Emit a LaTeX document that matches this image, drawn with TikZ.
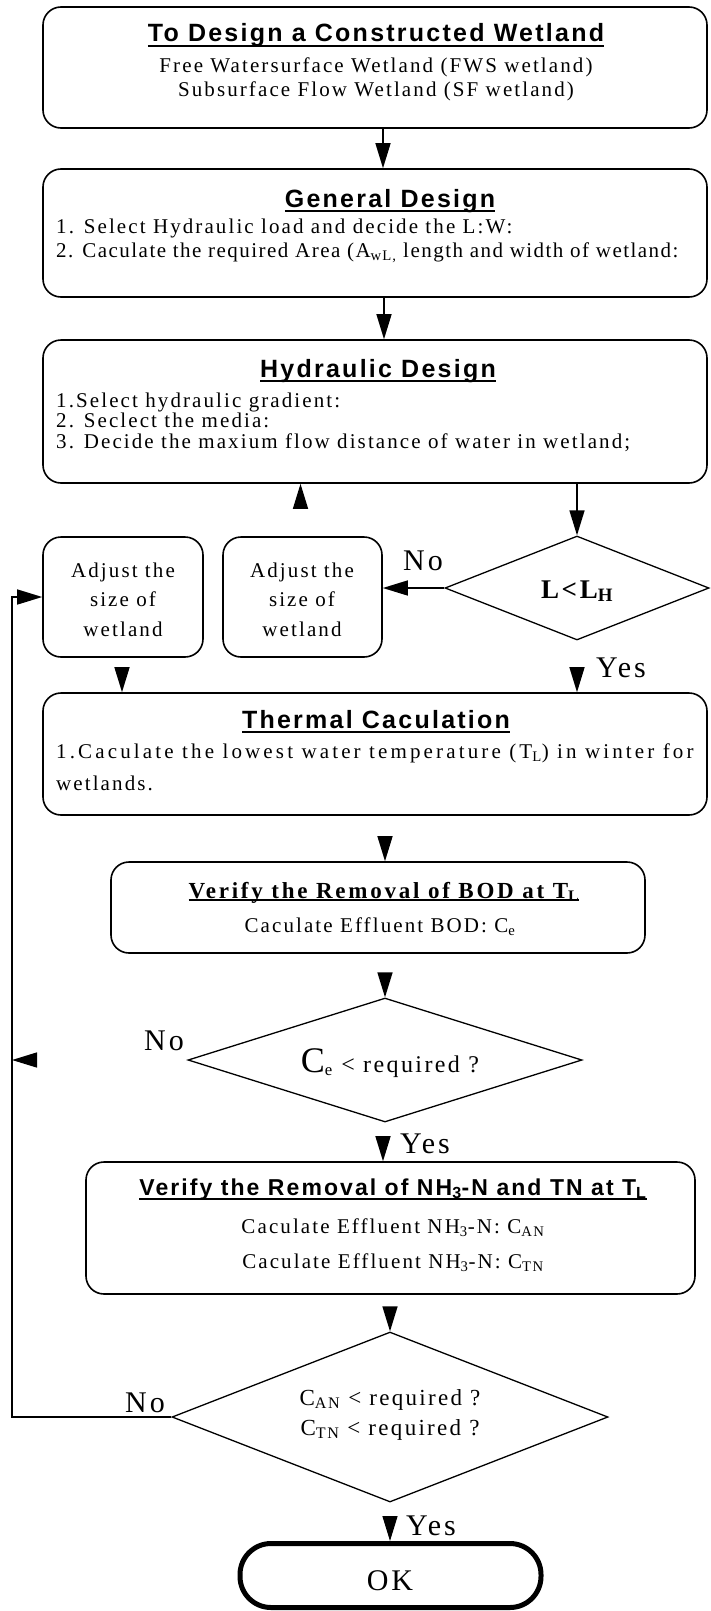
\documentclass[tikz,border=0pt]{standalone}
\usepackage{fontspec}
\setmainfont{Liberation Serif}[LetterSpace=10]
\newfontfamily\tsans{Liberation Sans}[LetterSpace=9]
\usetikzlibrary{arrows.meta,shapes.geometric}
\newcommand\myul[2][5pt]{\setbox0\hbox{#2}\rlap{\rule[-#1]{\wd0}{1.8pt}}\box0}
\tikzset{
  box/.style={draw, rounded corners=18pt, line width=1.6pt, inner sep=0pt},
  dia/.style={draw, diamond, line width=1.3pt, inner sep=0pt},
  arr/.style={line width=1.4pt, -{Triangle[length=25pt,width=15pt]}},
  txt/.style={inner sep=0pt, anchor=base, font=\fontsize{21}{24}\selectfont},
  ltxt/.style={txt, anchor=base west},
  ttl/.style={inner sep=0pt, anchor=base, font=\tsans\bfseries\fontsize{25}{28}\selectfont},
  lbl/.style={inner sep=0pt, anchor=base, font=\fontsize{30}{34}\selectfont},
}
\begin{document}
\begin{tikzpicture}[x=1pt,y=-1pt]
\useasboundingbox (0,0) rectangle (710,1611);
% boxes
\node[box, minimum width=664pt, minimum height=121pt] (b1) at (375,67.5) {};
\node[box, minimum width=664pt, minimum height=128pt] (b2) at (375,233) {};
\node[box, minimum width=664pt, minimum height=143pt] (b3) at (375,411.5) {};
\node[box, minimum width=160pt, minimum height=120pt] (adj1) at (123,597) {};
\node[box, minimum width=159pt, minimum height=120pt] (adj2) at (302.5,597) {};
\node[dia, minimum width=264pt, minimum height=104pt] (d1) at (577,588) {};
\node[box, minimum width=664pt, minimum height=122pt] (b4) at (375,754) {};
\node[box, minimum width=534pt, minimum height=91pt] (b5) at (378,907.5) {};
\node[dia, minimum width=394pt, minimum height=124pt] (d2) at (385,1060) {};
\node[box, minimum width=609pt, minimum height=132pt] (b6) at (390.5,1228) {};
\node[dia, minimum width=436pt, minimum height=170pt] (d3) at (390,1417) {};
\node[draw, line width=5pt, rounded corners=31pt, inner sep=0pt, minimum width=301pt, minimum height=64pt] (ok) at (390.5,1575.5) {};
\coordinate (fbx) at (12,0);

% texts box 1
\node[ttl] (t1) at (376,42) {\myul{To Design a Constructed Wetland}};
\node[txt] (t1a) at (376,73) {Free Watersurface Wetland (FWS wetland)};
\node[txt] (t1b) at (376,96) {Subsurface Flow Wetland (SF wetland)};
% box 2
\node[ttl] (t2) at (390,207) {\myul{General Design}};
\node[ltxt] (t2a) at (56,233) {1. Select Hydraulic load and decide the L:W:};
\node[ltxt, font=\fontsize{21}{24}\selectfont\addfontfeatures{LetterSpace=7}] (t2b) at (56,257) {2. Caculate the required Area (A\textsubscript{wL,} length and width of wetland:};
% box 3
\node[ttl] (t3) at (378,377) {\myul{Hydraulic Design}};
\node[ltxt] (t3a) at (56,407) {1.Select hydraulic gradient:};
\node[ltxt] (t3b) at (56,427) {2. Seclect the media:};
\node[ltxt] (t3c) at (56,448) {3. Decide the maxium flow distance of water in wetland;};
% adjust boxes
\node[txt] (a1a) at (123,577) {Adjust the};
\node[txt] (a1b) at (123,606) {size of};
\node[txt] (a1c) at (123,636) {wetland};
\node[txt] (a2a) at (302,577) {Adjust the};
\node[txt] (a2b) at (302,606) {size of};
\node[txt] (a2c) at (302,636) {wetland};
% diamond 1
\node[inner sep=0pt, anchor=base, font=\bfseries\fontsize{27}{30}\selectfont] (td1) at (577,598) {L<L\textsubscript{H}};
% box 4
\node[ltxt, font=\fontsize{21}{24}\selectfont\addfontfeatures{LetterSpace=15}] (t4a) at (56,758) {1.Caculate the lowest water temperature (T\textsubscript{L}) in winter for};
\node[ttl] (t4) at (376,728) {\myul{Thermal Caculation}};
\node[ltxt] (t4b) at (56,790) {wetlands.};
% box 5
\node[inner sep=0pt, anchor=base, font=\bfseries\fontsize{23}{26}\selectfont\addfontfeatures{LetterSpace=12}] (t5) at (384,898) {\myul[3pt]{Verify the Removal of BOD at T\textsubscript{L}}};
\node[txt] (t5a) at (380,932) {Caculate Effluent BOD: C\textsubscript{e}};
% diamond 2
\node[inner sep=0pt, anchor=base, font=\fontsize{24}{27}\selectfont] (td2) at (390,1072) {{\fontsize{36}{40}\selectfont C}\textsubscript{e} < required ?};
% box 6
\node[ttl, font=\tsans\bfseries\fontsize{23}{26}\selectfont] (t6) at (393,1195) {\myul{Verify the Removal of NH\textsubscript{3}-N and TN at T\textsubscript{L}}};
\node[txt] (t6a) at (393,1233) {Caculate Effluent NH\textsubscript{3}-N: C\textsubscript{AN}};
\node[txt] (t6b) at (393,1268) {Caculate Effluent NH\textsubscript{3}-N: C\textsubscript{TN}};
% diamond 3
\node[txt, font=\fontsize{23}{26}\selectfont] (td3a) at (390,1405) {C\textsubscript{AN} < required ?};
\node[txt, font=\fontsize{23}{26}\selectfont] (td3b) at (390,1435) {C\textsubscript{TN} < required ?};
% ok
\node[inner sep=0pt, anchor=base, font=\fontsize{30}{34}\selectfont] (tok) at (390,1590) {OK};

% labels
\node[lbl] (no1) at (423,570) {No};
\node[lbl] (no2) at (164,1050) {No};
\node[lbl] (no3) at (145,1412) {No};
\node[lbl] (yes1) at (621,677) {Yes};
\node[lbl] (yes2) at (425,1153) {Yes};
\node[lbl] (yes3) at (431,1535) {Yes};

% connectors
\draw[arr] ([xshift=8pt]b1.south) -- ([xshift=8pt]b2.north);
\draw[arr] ([xshift=9pt]b2.south) -- ([xshift=9pt]b3.north);
\draw[arr] (b3.south -| d1.north) -- (d1.north);
\draw[arr] (d1.west) -- (d1.west -| adj2.east);
\draw[arr, shorten <=28pt] ([xshift=-2pt]adj2.north) -- ([xshift=-2pt]adj2.north |- b3.south);
\draw[arr, shorten <=11pt] ([xshift=-1pt]adj1.south) -- ([xshift=-1pt]adj1.south |- b4.north);
\draw[arr, shorten <=33pt] (d1.south) -- (d1.south |- b4.north);
\draw[arr, shorten <=22pt] ([xshift=10pt]b4.south) -- ([xshift=10pt]b4.south |- b5.north);
\draw[arr, shorten <=21pt] ([xshift=7pt]b5.south) -- ([xshift=7pt]b5.south |- d2.north);
\draw[arr, shorten <=17pt] ([xshift=-2pt]d2.south) -- ([xshift=-2pt]d2.south |- b6.north);
\draw[arr, shorten <=13pt] (d3.north |- b6.south) -- (d3.north);
\draw[arr, shorten <=18pt] (d3.south) -- (d3.south |- ok.north);
\draw[arr, shorten <=151pt] (d2.west) -- (d2.west -| fbx);
\draw[arr] (d3.west) -- (d3.west -| fbx) -- (fbx |- adj1.west) -- (adj1.west);
\end{tikzpicture}
\end{document}
